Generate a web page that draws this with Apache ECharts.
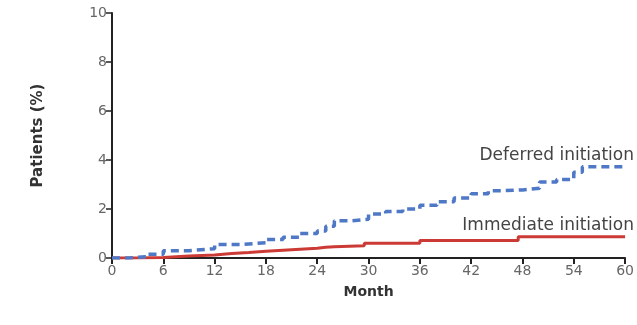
<!DOCTYPE html>
<html><head><meta charset="utf-8">
<script src="https://cdn.jsdelivr.net/npm/echarts@6/dist/echarts.min.js"></script>
<style>html,body{margin:0;padding:0;background:#fff}#c{width:637px;height:325px}</style>
</head><body><div id="c"></div>
<script>
const xTicks = [0,6,12,18,24,30,36,42,48,54,60];
const yTicks = [0,2,4,6,8,10];
const deferredMonths = [0,2,4,6,9,12,15,18,20,22,24,25,26,28,30,32,34,36,38,40,42,44,46,48,50,52,54,55,60];
const deferredValues = [0,0.05,0.15,0.3,0.38,0.55,0.62,0.76,0.85,1.0,1.1,1.3,1.52,1.58,1.8,1.9,2.0,2.15,2.3,2.45,2.62,2.75,2.78,2.85,3.1,3.2,3.5,3.72,3.72];
const immediateMonths = [0,3,6,9,12,14,16,18,20,22,24,25,26,29.5,36,47.5,60];
const immediateValues = [0,0.02,0.08,0.12,0.18,0.22,0.28,0.32,0.36,0.4,0.44,0.46,0.5,0.6,0.71,0.87,0.87];
const seriesNames = ['Deferred initiation','Immediate initiation'];

const chart = echarts.init(document.getElementById('c'));
const font = 'DejaVu Sans';
chart.setOption({
  animation:false,
  grid:{left:112,right:7,top:13,bottom:67},
  xAxis:{type:'value',min:0,max:60,interval:6,name:'Month',nameLocation:'middle',nameGap:27,
    nameTextStyle:{fontFamily:font,fontWeight:'bold',fontSize:14,color:'#333'},
    axisLine:{lineStyle:{color:'#222',width:2}},
    axisTick:{length:6,lineStyle:{color:'#222',width:2}},
    axisLabel:{fontFamily:font,fontSize:14,color:'#666',margin:6},
    splitLine:{show:false}},
  yAxis:{type:'value',min:0,max:10,interval:2,name:'Patients (%)',nameLocation:'middle',nameGap:66,
    nameTextStyle:{fontFamily:font,fontWeight:'bold',fontSize:15,color:'#333'},
    axisLine:{show:true,lineStyle:{color:'#222',width:2}},
    axisTick:{show:true,length:6,lineStyle:{color:'#222',width:1.5}},
    axisLabel:{fontFamily:font,fontSize:14,color:'#666',margin:5},
    splitLine:{show:false}},
  series:[
    {name:seriesNames[0],type:'line',step:'end',symbol:'none',
     data:deferredMonths.map((m,i)=>[m,deferredValues[i]]),
     lineStyle:{color:'#4f78c6',width:3.5,type:[8,5]},z:3},
    {name:seriesNames[1],type:'line',step:'end',symbol:'none',
     data:immediateMonths.map((m,i)=>[m,immediateValues[i]]),
     lineStyle:{color:'#cc3a36',width:3},z:2}
  ],
  graphic:[
    {type:'text',right:3,top:147,style:{text:seriesNames[0],font:'17px '+font,fill:'#444'}},
    {type:'text',right:3,top:217,style:{text:seriesNames[1],font:'17px '+font,fill:'#444'}}
  ]
});
</script></body></html>
